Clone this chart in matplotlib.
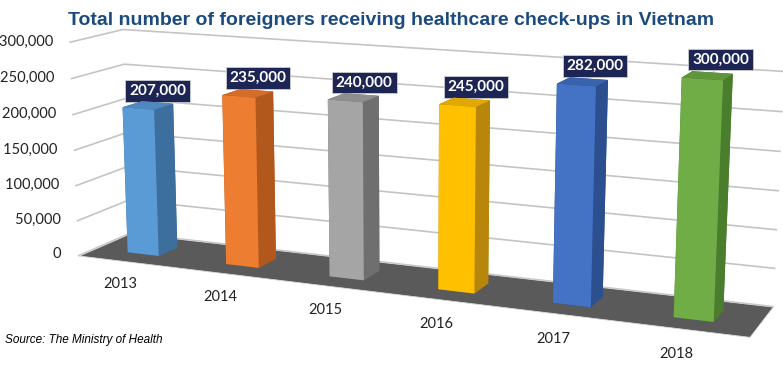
import matplotlib.pyplot as plt
import numpy as np
from mpl_toolkits.mplot3d.art3d import Poly3DCollection

years = ['2013', '2014', '2015', '2016', '2017', '2018']
values = [207000, 235000, 240000, 245000, 282000, 300000]
front_colors = ['#5b9bd5', '#ed7d31', '#a5a5a5', '#ffc000', '#4472c4', '#70ad47']
side_colors = ['#3d6f9e', '#b3581c', '#6f6f6f', '#b8860b', '#2c4f8f', '#4a7d2c']
top_colors = ['#4f88bf', '#d46d28', '#8e8e8e', '#e0a800', '#3a63ad', '#5f963c']
ticks = [0, 50000, 100000, 150000, 200000, 250000, 300000]
tick_labels = ['0', '50,000', '100,000', '150,000', '200,000', '250,000', '300,000']

fig = plt.figure(figsize=(7.83, 3.66), dpi=100)
# 3D axes draw into a square, so make it as wide as the figure
ax = fig.add_axes([0.008, -0.592, 1.0, 2.2], projection='3d')
ax.set_proj_type('persp', focal_length=0.42)
ax.view_init(elev=12.5, azim=-67)
ax.set_axis_off()

x0, x1 = -0.5, len(years) - 0.5
y0, y1 = -0.5, 0.5
ax.set_xlim(x0, x1)
ax.set_ylim(y0, y1)
ax.set_zlim(0, 300000)
ax.set_box_aspect((9.1, 1.3, 2.9), zoom=0.944)

# floor
floor = Poly3DCollection([[(x0, y0, 0), (x1, y0, 0), (x1, y1, 0), (x0, y1, 0)]],
                         facecolor='#5a5a5a', edgecolor='#d9d9d9', linewidth=0.6)
ax.add_collection3d(floor)

# gridlines on left and back wall
for t, lab in zip(ticks, tick_labels):
    ax.plot([x0, x0, x1], [y0, y1, y1], [t, t, t], color='#c4c4c4', lw=1.2, zorder=1)
    ax.text(x0 - 0.1, y0, t, lab + '  ', ha='right', va='center', fontsize=10.5,
            family='Lato', color='#222222')

# bars
w, d = 0.32, 0.38
xs = np.arange(len(years)) - w / 2
cols = []
for fc, sc, tc in zip(front_colors, side_colors, top_colors):
    # order: -z, +z, -y, +y, -x, +x
    cols += [sc, tc, fc, sc, sc, sc]
ax.bar3d(xs, np.full(len(years), -d / 2), np.zeros(len(years)), w, d, values,
         color=cols, shade=False, edgecolor='none')

for i, (yr, v) in enumerate(zip(years, values)):
    ax.text(i - 0.05, y0 - 0.05, -22000, yr, ha='center', va='top', fontsize=10.5,
            family='Lato', color='#222222')
    ax.plot([i, i + 0.1], [0, 0], [v, v + 12000], color='#d9d9d9', lw=0.8)
    ax.text(i + 0.1, 0, v + 12000, f'{v:,}', ha='center', va='bottom', fontsize=11,
            fontweight='bold', family='Lato', color='white',
            bbox=dict(boxstyle='square,pad=0.25', facecolor='#1d2555', edgecolor='#cccccc', lw=0.6))

fig.text(0.5, 0.945, 'Total number of foreigners receiving healthcare check-ups in Vietnam',
         ha='center', va='center', fontsize=14, fontweight='bold',
         family='Liberation Sans', color='#1b4a7e')
fig.text(0.006, 0.07, 'Source: The Ministry of Health', ha='left', va='center',
         fontsize=8.5, style='italic', family='Liberation Sans')

fig.savefig('out.png', dpi=100)
